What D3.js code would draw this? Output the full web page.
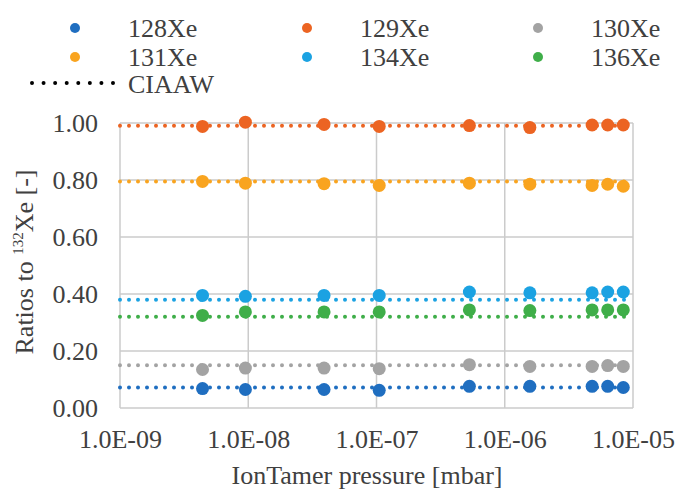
<!DOCTYPE html>
<html><head><meta charset="utf-8">
<script src="https://cdn.jsdelivr.net/npm/d3@7"></script>
<style>body{margin:0;background:#fff}svg{display:block}text{font-family:"Liberation Serif","Times New Roman","DejaVu Serif",serif;fill:#404040}</style>
</head><body><div id="c"></div>
<script>
const pressures = [4.4e-9, 9.5e-9, 3.9e-8, 1.05e-7, 5.3e-7, 1.57e-6, 4.8e-6, 6.35e-6, 8.4e-6];
const seriesNames = ["128Xe","129Xe","130Xe","131Xe","134Xe","136Xe"];
const colors = ["#1f6ec0","#ec6422","#a3a3a3","#f9a41f","#1ba2e2","#3fae49"];
const xe128 = [0.068,0.065,0.065,0.062,0.076,0.076,0.076,0.076,0.072];
const xe129 = [0.988,1.003,0.995,0.988,0.991,0.984,0.993,0.993,0.993];
const xe130 = [0.135,0.140,0.140,0.138,0.152,0.146,0.146,0.149,0.146];
const xe131 = [0.795,0.789,0.787,0.781,0.789,0.785,0.781,0.785,0.778];
const xe134 = [0.395,0.392,0.395,0.395,0.407,0.404,0.404,0.407,0.407];
const xe136 = [0.325,0.337,0.337,0.337,0.344,0.342,0.344,0.344,0.344];
const ciaaw = [0.072,0.990,0.150,0.795,0.380,0.320];
const xTicks = [1e-9,1e-8,1e-7,1e-6,1e-5];
const yTicks = [0,0.2,0.4,0.6,0.8,1.0];
const values = [xe128,xe129,xe130,xe131,xe134,xe136];

const W=680,H=492;
const FONT='"Liberation Serif","Times New Roman","DejaVu Serif",serif';
const svg=d3.select("#c").append("svg").attr("width",W).attr("height",H);
const x=d3.scaleLog().domain([1e-9,1e-5]).range([120,633]);
const y=d3.scaleLinear().domain([0,1]).range([408,123]);

// gridlines
svg.append("g").selectAll("line").data(yTicks).join("line")
  .attr("x1",x(1e-9)).attr("x2",x(1e-5)).attr("y1",d=>y(d)).attr("y2",d=>y(d))
  .attr("stroke","#cbcbcb").attr("stroke-width",1.5);
svg.append("g").selectAll("line").data(xTicks).join("line")
  .attr("x1",d=>x(d)).attr("x2",d=>x(d)).attr("y1",y(0)).attr("y2",y(1))
  .attr("stroke","#cbcbcb").attr("stroke-width",1.5);

// axes
const fmt = d => { const e=Math.round(Math.log10(d)); return "1.0E"+(e<0?"-":"+")+String(Math.abs(e)).padStart(2,"0"); };
const xAxis=svg.append("g").attr("transform",`translate(0,${y(0)})`)
  .call(d3.axisBottom(x).tickValues(xTicks).tickFormat(fmt).tickSize(0).tickPadding(22));
xAxis.attr("font-family",FONT);
xAxis.select(".domain").remove();
xAxis.selectAll("text").attr("font-size",26).attr("fill","#404040");
const yAxis=svg.append("g").attr("transform",`translate(${x(1e-9)},0)`)
  .call(d3.axisLeft(y).tickValues(yTicks).tickFormat(d3.format(".2f")).tickSize(0).tickPadding(22));
yAxis.attr("font-family",FONT);
yAxis.select(".domain").remove();
yAxis.selectAll("text").attr("font-size",26).attr("fill","#404040");

// CIAAW dotted lines
svg.append("g").selectAll("line").data(ciaaw).join("line")
  .attr("x1",x(1e-9)).attr("x2",x(1e-5)).attr("y1",d=>y(d)).attr("y2",d=>y(d))
  .attr("stroke",(d,i)=>colors[i]).attr("stroke-width",4).attr("stroke-linecap","round")
  .attr("stroke-dasharray","0 9");

// points
values.forEach((vals,i)=>{
  svg.append("g").selectAll("circle").data(vals).join("circle")
    .attr("cx",(d,j)=>x(pressures[j])).attr("cy",d=>y(d)).attr("r",6.5)
    .attr("fill",colors[i]);
});

// legend
const lg=svg.append("g");
const lx=[75,307,538], ly=[28,57];
seriesNames.forEach((n,i)=>{
  const cx=lx[i%3], cy=ly[Math.floor(i/3)];
  lg.append("circle").attr("cx",cx).attr("cy",cy).attr("r",5).attr("fill",colors[i]);
  lg.append("text").attr("x",cx+53).attr("y",cy+9).attr("font-size",26).text(n);
});
lg.append("line").attr("x1",32).attr("x2",113).attr("y1",83).attr("y2",83)
  .attr("stroke","#000").attr("stroke-width",4).attr("stroke-linecap","round").attr("stroke-dasharray","0 11.57");
lg.append("text").attr("x",128).attr("y",93).attr("font-size",26).text("CIAAW");

// axis titles
svg.append("text").attr("x",367).attr("y",484).attr("text-anchor","middle").attr("font-size",26).text("IonTamer pressure [mbar]");
const yt=svg.append("text").attr("transform","translate(33,262) rotate(-90)").attr("text-anchor","middle").attr("font-size",26);
yt.append("tspan").text("Ratios to ");
yt.append("tspan").attr("font-size",15).attr("dy",-10).text("132");
yt.append("tspan").attr("dy",10).text("Xe [-]");
</script></body></html>
